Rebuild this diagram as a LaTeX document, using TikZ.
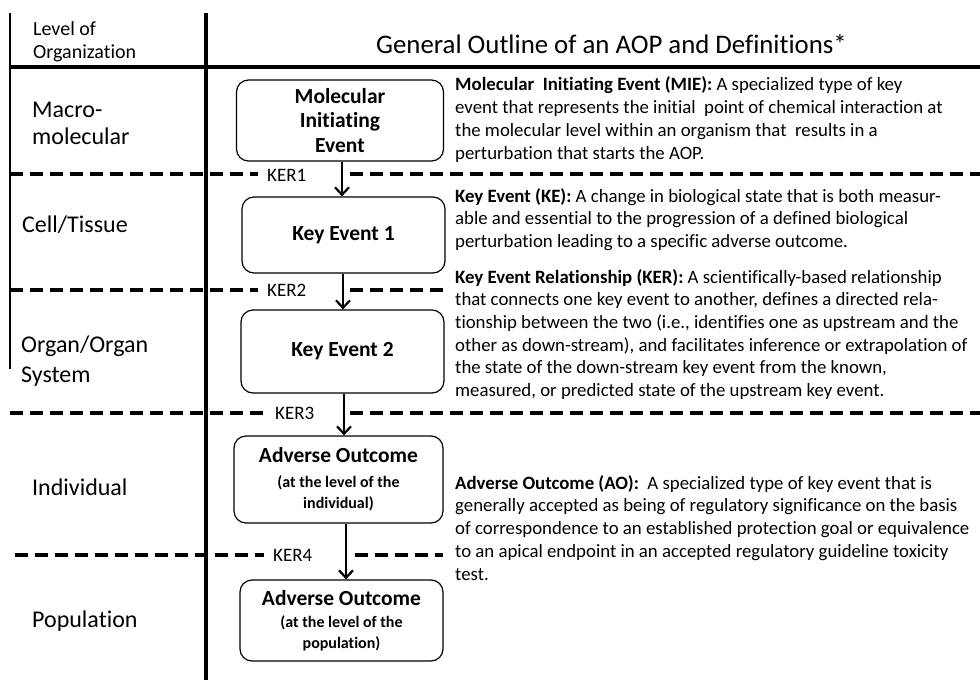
\documentclass[tikz,border=0pt]{standalone}
\usepackage{fontspec}
\setmainfont{Carlito}[Ligatures=NoCommon]
\usetikzlibrary{arrows.meta}
\begin{document}
\begin{tikzpicture}[x=1pt,y=-1pt,
  event/.style={draw, line width=1.2pt, rounded corners=12pt, align=flush center,
    inner xsep=4pt, inner ysep=0pt, text width=195pt,
    font={\bfseries\fontsize{21.5}{24.5}\selectfont}},
  flow/.style={line width=2.4pt, -{Straight Barb[length=7.5pt,width=14pt,line width=2.2pt]}},
  levelsep/.style={line width=3.5pt, dash pattern=on 13pt off 7pt},
  kerlabel/.style={fill=white, anchor=west, inner xsep=9pt, inner ysep=2pt,
    text width=66pt, align=left, font={\fontsize{19}{21}\selectfont}},
  defn/.style={anchor=base west, align=left, inner sep=0pt,
    font={\fontsize{18.8}{22.7}\selectfont}},
  level/.style={anchor=base west, align=left, inner sep=0pt,
    font={\fontsize{24}{27}\selectfont}}
]
\useasboundingbox (0,0) rectangle (980,680);

% frame coordinates
\coordinate (thinTop) at (10,13);
\coordinate (thinBot) at (10,369);
\coordinate (axisTop) at (206,13);
\coordinate (axisBot) at (206,680);
\coordinate (headL) at (10,67);
\coordinate (headR) at (980,67);

% level separators
\coordinate (s1l) at (10,174);  \coordinate (s1r) at (980,174);
\coordinate (s2l) at (10,290);  \coordinate (s2r) at (445,290);
\coordinate (s3l) at (10,413);  \coordinate (s3r) at (980,413);
\coordinate (s4l) at (15,555);  \coordinate (s4r) at (443,555);
\draw[levelsep] (s1l) -- (s1r);
\draw[levelsep] (s2l) -- (s2r);
\draw[levelsep] (s3l) -- (s3r);
\draw[levelsep] (s4l) -- (s4r);

\node[kerlabel] (ker1) at (258,175) {KER1};
\node[kerlabel] (ker2) at (258,290) {KER2};
\node[kerlabel] (ker3) at (266,413) {KER3};
\node[kerlabel] (ker4) at (264,555) {KER4};

% table rules
\draw[line width=1.3pt] (thinTop) -- (thinBot);
\draw[line width=4pt] (axisTop) -- (axisBot);
\draw[line width=4pt] (headL) -- (headR);

% header (base anchor = last line)
\node[anchor=base west, align=left, inner sep=0pt, font={\fontsize{20}{23}\selectfont}]
  (lvlhead) at (33,58) {Level of\\Organization};
\node[anchor=base west, inner sep=0pt, font={\fontsize{26.8}{30}\selectfont}]
  (title) at (376,53) {General Outline of an AOP and Definitions*};

% levels of organization
\node[level] (lvMacro) at (32,144) {Macro-\\molecular};
\node[level] (lvCell) at (22,232) {Cell/Tissue};
\node[level, font={\fontsize{24}{30}\selectfont}] (lvOrgan) at (21,382) {Organ/Organ\\System};
\node[level] (lvInd) at (32,495) {Individual};
\node[level] (lvPop) at (32,627) {Population};

% events of the pathway
\node[event, minimum width=207pt, minimum height=81pt] (mie) at (340,120.5)
  {Molecular\\Initiating\\Event};
\node[event, minimum width=203pt, minimum height=76pt] (ke1) at (343.5,235)
  {Key Event 1};
\node[event, minimum width=202pt, minimum height=83pt] (ke2) at (342.5,351.5)
  {Key Event 2};
\node[event, minimum width=209pt, minimum height=87pt] (ao1) at (338.5,479.5)
  {Adverse Outcome\par\vspace{4pt}{\fontsize{16}{21}\selectfont (at the level of the\\individual)\par}};
\node[event, minimum width=203pt, minimum height=81pt] (ao2) at (341.5,620.5)
  {Adverse Outcome\par\vspace{1pt}{\fontsize{16}{21}\selectfont (at the level of the\\population)\par}};

% key event relationships
\draw[flow] ([xshift=2pt]mie.south) -- ([xshift=2pt]mie.south |- ke1.north);
\draw[flow] ([xshift=-0.5pt]ke1.south) -- ([xshift=-0.5pt]ke1.south |- ke2.north);
\draw[flow] ([xshift=1.5pt]ke2.south) -- ([xshift=1.5pt]ke2.south |- ao1.north);
\draw[flow] ([xshift=7.5pt]ao1.south) -- ([xshift=7.5pt]ao1.south |- ao2.north);

% definitions (base anchor = baseline of the last line)
\node[defn] (dMIE) at (455,159)
  {\textbf{Molecular\ \ Initiating Event (MIE):} A specialized type of key\\
   event that represents the initial\ \ point of chemical interaction at\\
   the molecular level within an organism that\ \ results in a\\
   perturbation that starts the AOP.};
\node[defn] (dKE) at (455,247.4)
  {\textbf{Key Event (KE):} A change in biological state that is both measur-\\
   able and essential to the progression of a defined biological\\
   perturbation leading to a specific adverse outcome.};
\node[defn] (dKER) at (455,396.5)
  {\textbf{Key Event Relationship (KER):} A scientifically-based relationship\\
   that connects one key event to another, defines a directed rela-\\
   tionship between the two (i.e., identifies one as upstream and the\\
   other as down-stream), and facilitates inference or extrapolation of\\
   the state of the down-stream key event from the known,\\
   measured, or predicted state of the upstream key event.};
\node[defn] (dAO) at (455,580)
  {\textbf{Adverse Outcome (AO):}\ \ A specialized type of key event that is\\
   generally accepted as being of regulatory significance on the basis\\
   of correspondence to an established protection goal or equivalence\\
   to an apical endpoint in an accepted regulatory guideline toxicity\\
   test.};
\end{tikzpicture}
\end{document}
